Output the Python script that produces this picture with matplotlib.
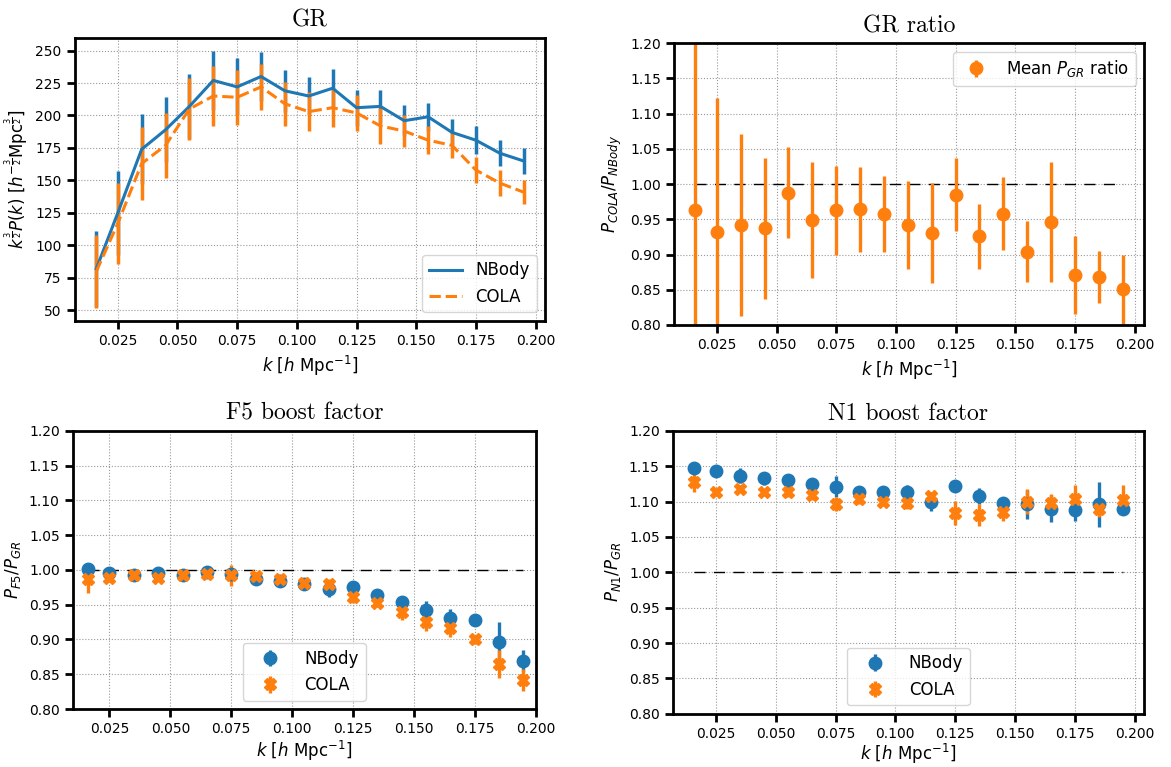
import numpy as np
import matplotlib
matplotlib.use("Agg")
import matplotlib.pyplot as plt

# k bins
k = [0.016, 0.025, 0.035, 0.045, 0.055, 0.065, 0.075, 0.085, 0.095, 0.105,
     0.115, 0.125, 0.135, 0.145, 0.155, 0.165, 0.175, 0.185, 0.195]

# GR power spectrum k^1.5 P(k)
gr_nbody = [82, 125, 174, 189, 207, 227, 222, 230, 219, 215, 221, 206, 207, 196, 199, 187, 181, 171, 165]
gr_nbody_err = [29, 32, 27, 25, 25, 23, 22, 19, 16, 15, 15, 14, 13, 12, 11, 10, 11, 10, 10]
gr_cola = [80, 117, 163, 177, 205, 215, 214, 222, 209, 203, 206, 202, 192, 188, 181, 177, 158, 148, 141]
gr_cola_err = [28, 31, 28, 25, 24, 23, 21, 18, 17, 15, 15, 14, 14, 12, 11, 10, 10, 10, 9]

# mean COLA / NBody ratio in GR
ratio = [0.963, 0.932, 0.942, 0.937, 0.988, 0.949, 0.963, 0.964, 0.958, 0.942,
         0.931, 0.985, 0.926, 0.958, 0.904, 0.946, 0.871, 0.868, 0.851]
ratio_err = [0.25, 0.19, 0.129, 0.1, 0.065, 0.083, 0.063, 0.06, 0.054, 0.062,
             0.071, 0.052, 0.046, 0.052, 0.043, 0.085, 0.055, 0.037, 0.049]

# F5 boost
f5_nbody = [1.001, 0.996, 0.992, 0.996, 0.993, 0.997, 0.994, 0.987, 0.984, 0.980,
            0.973, 0.976, 0.964, 0.954, 0.942, 0.931, 0.928, 0.897, 0.869]
f5_nbody_err = [0.005, 0.003, 0.003, 0.003, 0.003, 0.003, 0.004, 0.006, 0.008, 0.006,
                0.012, 0.004, 0.006, 0.006, 0.013, 0.013, 0.008, 0.028, 0.016]
f5_cola = [0.987, 0.988, 0.992, 0.989, 0.992, 0.994, 0.992, 0.991, 0.987, 0.981,
           0.980, 0.961, 0.953, 0.939, 0.925, 0.917, 0.900, 0.865, 0.842]
f5_cola_err = [0.02, 0.006, 0.004, 0.005, 0.004, 0.004, 0.015, 0.005, 0.006, 0.005,
               0.007, 0.009, 0.006, 0.011, 0.013, 0.014, 0.007, 0.02, 0.016]

# N1 boost
n1_nbody = [1.148, 1.144, 1.137, 1.133, 1.131, 1.125, 1.121, 1.113, 1.113, 1.114,
            1.100, 1.122, 1.108, 1.098, 1.096, 1.090, 1.088, 1.096, 1.090]
n1_nbody_err = [0.003, 0.003, 0.01, 0.009, 0.007, 0.004, 0.015, 0.004, 0.008, 0.01,
                0.013, 0.004, 0.011, 0.004, 0.021, 0.019, 0.016, 0.032, 0.007]
n1_cola = [1.128, 1.114, 1.118, 1.113, 1.114, 1.109, 1.097, 1.104, 1.099, 1.098,
           1.108, 1.084, 1.081, 1.086, 1.100, 1.098, 1.104, 1.090, 1.102]
n1_cola_err = [0.014, 0.005, 0.005, 0.005, 0.008, 0.007, 0.01, 0.007, 0.005, 0.008,
               0.005, 0.017, 0.016, 0.013, 0.018, 0.013, 0.019, 0.012, 0.021]

blue = '#1f77b4'
orange = '#ff7f0e'
xlab = r'$k$ [$h$ Mpc$^{-1}$]'
dash = (0, (8, 6))

fig = plt.figure(figsize=(11.71, 7.67), dpi=100)
ax1 = fig.add_axes([0.0640, 0.5819, 0.4014, 0.3690])
ax2 = fig.add_axes([0.5756, 0.5763, 0.4014, 0.3673])
ax3 = fig.add_axes([0.0623, 0.0756, 0.3951, 0.3628])
ax4 = fig.add_axes([0.5747, 0.0695, 0.4022, 0.3686])


def style(ax, title, ylabel, xpad=4):
    ax.grid(True, ls=':', color='#999999', lw=0.8)
    ax.set_axisbelow(True)
    for s in ax.spines.values():
        s.set_linewidth(2)
    ax.tick_params(direction='out', length=6, width=2, labelsize=10)
    ax.set_title(title, fontfamily='cmr10', fontsize=17, pad=8)
    ax.set_ylabel(ylabel, fontsize=12)
    ax.set_xlabel(xlab, fontsize=12, labelpad=xpad)


# GR
ax1.errorbar(k, gr_nbody, yerr=gr_nbody_err, fmt='none', ecolor=blue, elinewidth=2.5)
ax1.errorbar(k, gr_cola, yerr=gr_cola_err, fmt='none', ecolor=orange, elinewidth=2.5)
ax1.plot(k, gr_nbody, color=blue, lw=2.2, label='NBody')
ax1.plot(k, gr_cola, color=orange, lw=2.2, ls='--', label='COLA')
style(ax1, 'GR', r'$k^{\frac{3}{2}}P(k)$ [$h^{-\frac{3}{2}}$Mpc$^{\frac{3}{2}}$]')
ax1.set_yticks(np.arange(50, 251, 25))
ax1.legend(loc='lower right', fontsize=12)

# GR ratio
ax2.plot(k, np.ones(len(k)), color='k', ls=dash, lw=1)
ax2.errorbar(k, ratio, yerr=ratio_err, fmt='o', color=orange, ms=9, elinewidth=2.4,
             label=r'Mean $P_{GR}$ ratio')
style(ax2, 'GR ratio', r'$P_{COLA}/P_{NBody}$')
ax2.set_ylim(0.8, 1.2)
ax2.legend(loc='upper right', fontsize=12)

# F5 boost
ax3.plot(k, np.ones(len(k)), color='k', ls=dash, lw=1)
ax3.errorbar(k, f5_nbody, yerr=f5_nbody_err, fmt='o', color=blue, ms=9, elinewidth=2.4, label='NBody')
ax3.errorbar(k, f5_cola, yerr=f5_cola_err, fmt='X', color=orange, ms=8, elinewidth=2.4, label='COLA')
style(ax3, 'F5 boost factor', r'$P_{F5}/P_{GR}$', xpad=2)
ax3.set_ylim(0.8, 1.2)
ax3.set_xlim(0.010, 0.200)
ax3.legend(loc='lower center', fontsize=12, handlelength=2.5)

# N1 boost
ax4.plot(k, np.ones(len(k)), color='k', ls=dash, lw=1)
ax4.errorbar(k, n1_nbody, yerr=n1_nbody_err, fmt='o', color=blue, ms=9, elinewidth=2.4, label='NBody')
ax4.errorbar(k, n1_cola, yerr=n1_cola_err, fmt='X', color=orange, ms=8, elinewidth=2.4, label='COLA')
style(ax4, 'N1 boost factor', r'$P_{N1}/P_{GR}$', xpad=0.5)
ax4.set_ylim(0.8, 1.2)
ax4.legend(loc='lower center', fontsize=12, handlelength=2.5)

fig.savefig('out.png', dpi=100)
